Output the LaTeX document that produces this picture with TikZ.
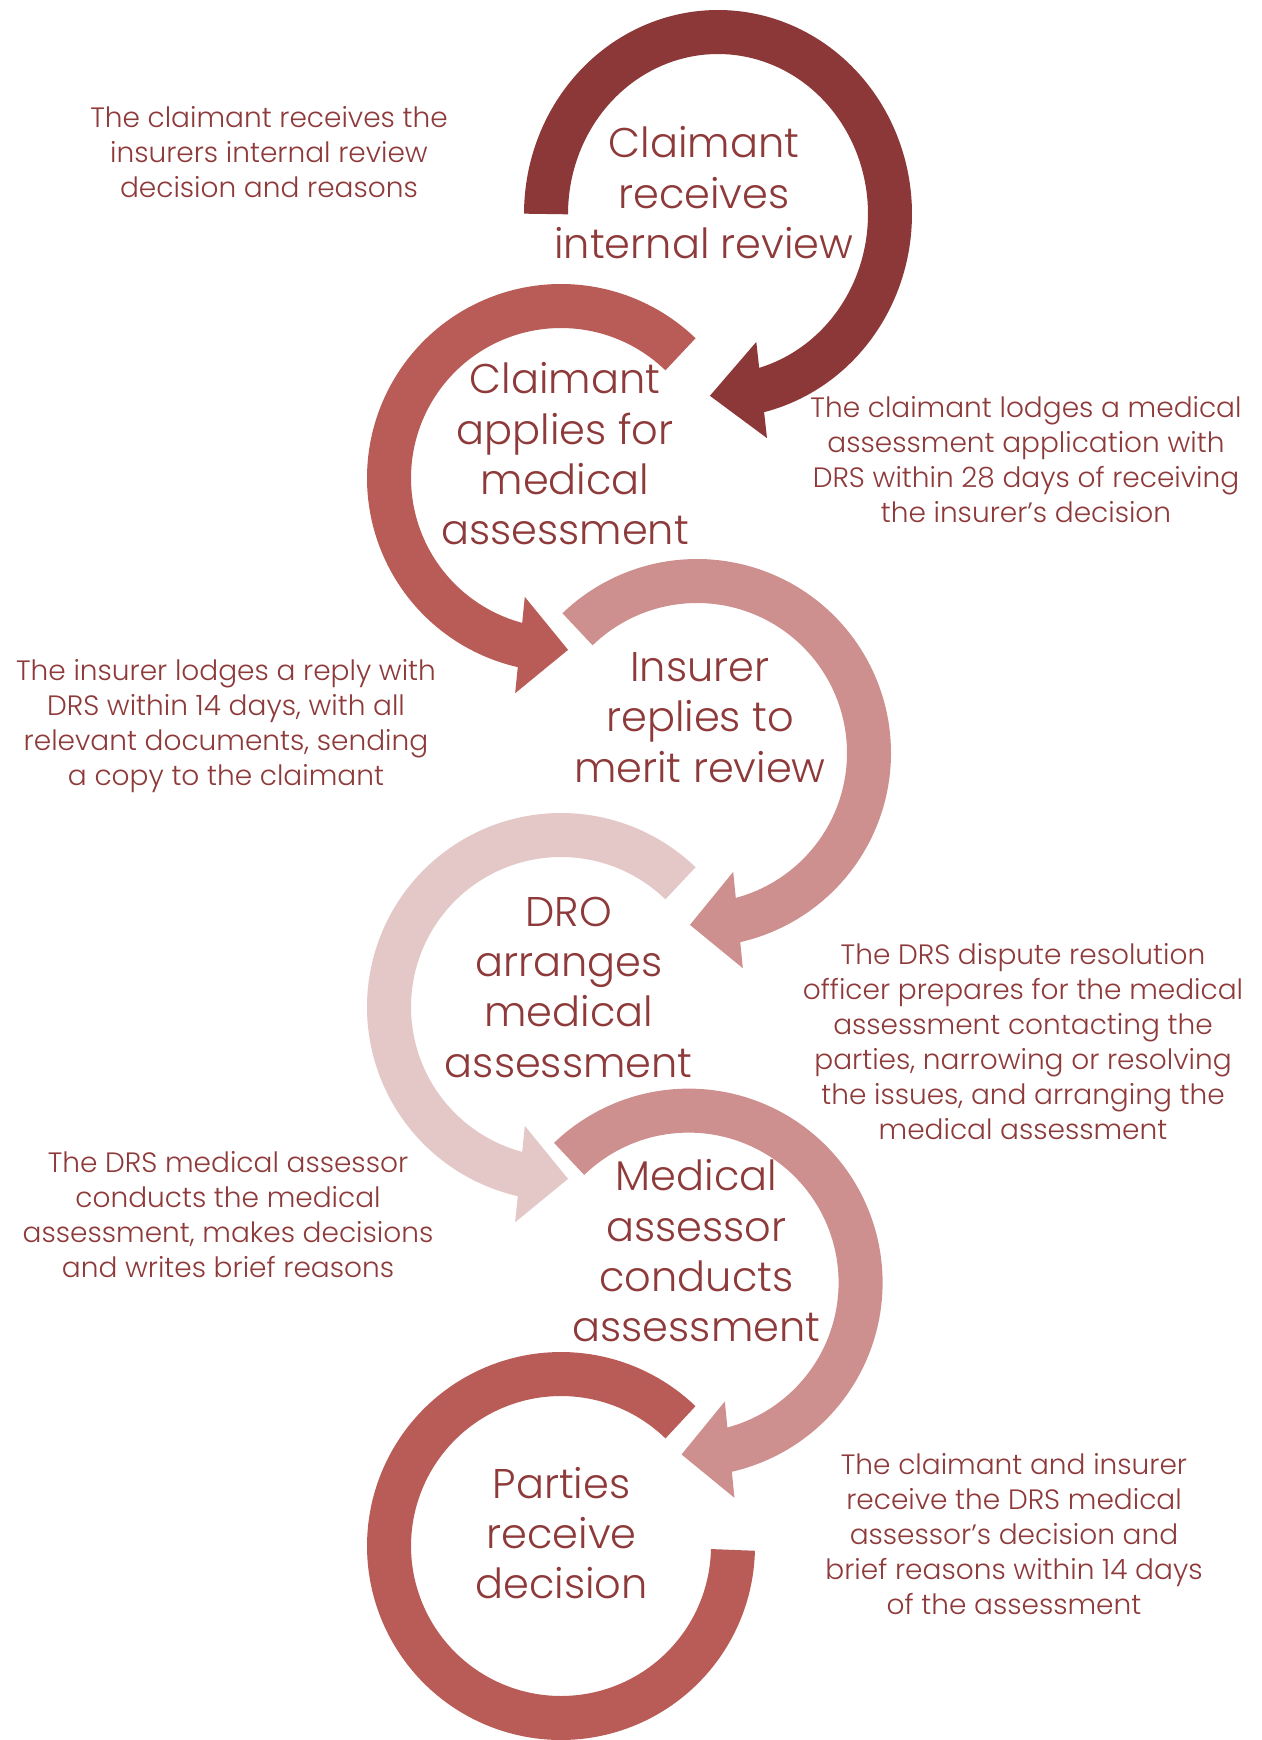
\documentclass[tikz,border=0pt]{standalone}
\usepackage{fontspec}
\setmainfont{Poppins Light}
\usetikzlibrary{calc}
\definecolor{cA}{HTML}{8C3838}
\definecolor{cB}{HTML}{B95B56}
\definecolor{cC}{HTML}{CD908E}
\definecolor{cD}{HTML}{E4C7C7}
\definecolor{txt}{HTML}{8E3A3A}
\tikzset{
  shaft/.style={line width=44pt, line cap=butt, line join=round},
  big/.style={font=\fontsize{41.5}{50.3}\selectfont, text=txt, align=center, inner sep=0pt, anchor=base},
  small/.style={font=\fontsize{28}{35}\selectfont, text=txt, align=center, inner sep=0pt, anchor=base}
}
% #1 cx #2 cy #3 rx #4 ry #5 start #6 end #7 colour
\newcommand{\ringshaft}[7]{%
  \draw[shaft, draw=#7] plot[domain=#5:#6, samples=160] ({#1+#3*cos(\x)},{#2+#4*sin(\x)});
}
% #1 name #2 cx #3 cy #4 rx #5 ry #6 base #7 tip #8 colour
\newcommand{\ringhead}[8]{%
  \coordinate (#1b) at ({#2+#4*cos(#6)},{#3+#5*sin(#6)});
  \coordinate (#1t) at ({#2+#4*cos(#7)},{#3+#5*sin(#7)});
  \fill[#8] (#1t) -- ($(#1b)!48.4pt!90:(#1t)$) -- ($(#1b)!48.4pt!-90:(#1t)$) -- cycle;
}
\begin{document}
\begin{tikzpicture}[x=1pt,y=-1pt]
\useasboundingbox (0,0) rectangle (1261,1740);
\fill[white] (0,0) rectangle (1261,1740);
% ring 1
\ringshaft{718}{214}{172}{182}{180}{438.3}{cA}
\ringhead{r1}{718}{214}{172}{182}{435.3}{452.7}{cA}
% ring 2
\ringshaft{561}{478}{172}{172}{-46}{-259.2}{cB}
\ringhead{r2}{561}{478}{172}{172}{-256.2}{-272.35}{cB}
% ring 3
\ringshaft{697}{753}{172}{172}{-134}{79.2}{cC}
\ringhead{r3}{697}{753}{172}{172}{76.2}{92.35}{cC}
% ring 4
\ringshaft{561}{1007}{172}{172}{-46}{-259.2}{cD}
\ringhead{r4}{561}{1007}{172}{172}{-256.2}{-272.35}{cD}
% ring 5
\ringshaft{688.6}{1282.6}{172}{172}{-134}{79.2}{cC}
\ringhead{r5}{688.6}{1282.6}{172}{172}{76.2}{92.35}{cC}
% ring 6
\ringshaft{561}{1546}{172}{172}{-46}{-358.7}{cB}
% labels (anchor = baseline of last line)
\node[big] (l1) at (704,258.3) {Claimant\\receives\\internal review};
\node[big] (l2) at (565,544.6) {Claimant\\applies for\\medical\\assessment};
\node[big] (l3) at (700,782) {Insurer\\replies to\\merit review};
\node[big] (l4) at (568.7,1077) {DRO\\arranges\\medical\\assessment};
\node[big] (l5) at (696.5,1341.6) {Medical\\assessor\\conducts\\assessment};
\node[big] (l6) at (561.5,1598.8) {Parties\\receive\\decision};
% notes
\node[small] (nA) at (269,197.9) {The claimant receives the\\insurers internal review\\decision and reasons};
\node[small] (nB) at (1026,522.4) {The claimant lodges a medical\\assessment application with\\DRS within 28 days of receiving\\the insurer’s decision};
\node[small] (nC) at (226,785.4) {The insurer lodges a reply with\\DRS within 14 days, with all\\relevant documents, sending\\a copy to the claimant};
\node[small] (nD) at (1023,1139.4) {The DRS dispute resolution\\officer prepares for the medical\\assessment contacting the\\parties, narrowing or resolving\\the issues, and arranging the\\medical assessment};
\node[small] (nE) at (228,1277) {The DRS medical assessor\\conducts the medical\\assessment, makes decisions\\and writes brief reasons};
\node[small] (nF) at (1014,1614.6) {The claimant and insurer\\receive the DRS medical\\assessor’s decision and\\brief reasons within 14 days\\of the assessment};
\end{tikzpicture}
\end{document}
